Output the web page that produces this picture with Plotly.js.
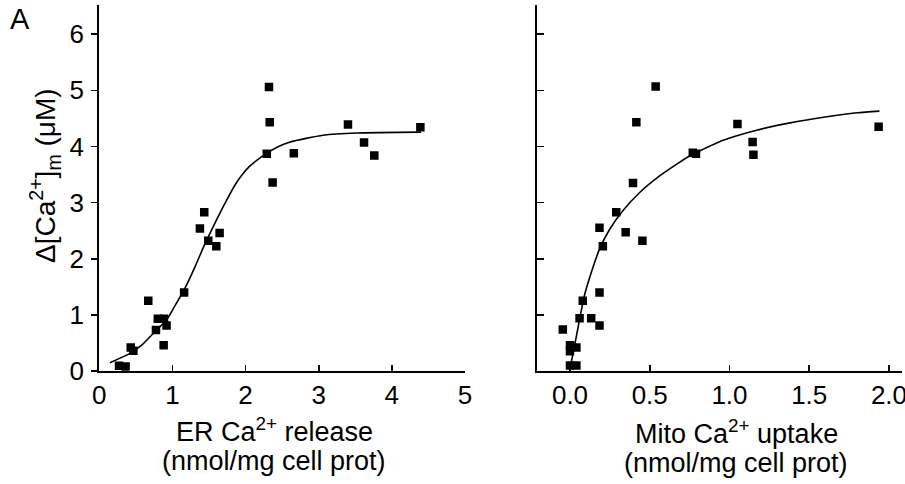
<!DOCTYPE html>
<html>
<head>
<meta charset="utf-8">
<script src="https://cdn.plot.ly/plotly-3.0.1.min.js"></script>
<style>html,body{margin:0;padding:0;background:#fff;}#chart{width:905px;height:484px;}</style>
</head>
<body>
<div id="chart"></div>
<script>
// Left panel: ER Ca2+ release vs Δ[Ca2+]m
var erX = [0.27, 0.36, 0.43, 0.466, 0.67, 0.775, 0.80, 0.884, 0.92, 0.88, 1.16, 1.376, 1.435, 1.49, 1.60, 1.645, 2.32, 2.33, 2.29, 2.37, 2.66, 3.40, 3.62, 3.76, 4.39];
var erY = [0.095, 0.08, 0.42, 0.36, 1.25, 0.73, 0.93, 0.93, 0.81, 0.46, 1.40, 2.54, 2.83, 2.32, 2.22, 2.46, 5.06, 4.43, 3.87, 3.36, 3.88, 4.39, 4.07, 3.84, 4.34];
// Left fitted curve
var erFitX = [0.146, 0.40, 0.58, 0.76, 0.92, 1.03, 1.17, 1.31, 1.44, 1.58, 1.72, 1.85, 1.95, 2.05, 2.18, 2.29, 2.45, 2.61, 3.06, 3.52, 4.40];
var erFitY = [0.148, 0.30, 0.46, 0.70, 0.91, 1.15, 1.47, 1.86, 2.25, 2.63, 2.99, 3.30, 3.49, 3.64, 3.78, 3.88, 4.00, 4.08, 4.20, 4.24, 4.255];

// Right panel: Mito Ca2+ uptake vs Δ[Ca2+]m
var mitoX = [-0.045, 0.0, 0.0, 0.04, 0.0, 0.04, 0.06, 0.08, 0.133, 0.185, 0.185, 0.206, 0.185, 0.29, 0.349, 0.454, 0.395, 0.416, 0.537, 0.77, 0.79, 1.05, 1.145, 1.15, 1.935];
var mitoY = [0.74, 0.46, 0.35, 0.42, 0.10, 0.10, 0.94, 1.25, 0.94, 0.81, 1.40, 2.22, 2.55, 2.83, 2.47, 2.32, 3.35, 4.43, 5.07, 3.89, 3.87, 4.40, 4.08, 3.85, 4.35];
// Right fitted curve
var mitoFitX = [0.0, 0.028, 0.06, 0.09, 0.133, 0.185, 0.248, 0.33, 0.437, 0.56, 0.667, 0.75, 0.813, 0.96, 1.17, 1.38, 1.59, 1.80, 1.94];
var mitoFitY = [0.04, 0.44, 0.92, 1.34, 1.75, 2.17, 2.52, 2.85, 3.18, 3.47, 3.68, 3.83, 3.92, 4.11, 4.29, 4.42, 4.52, 4.60, 4.63];

var yTicks = [0, 1, 2, 3, 4, 5, 6];
var erTicks = [0, 1, 2, 3, 4, 5];
var mitoTicks = [0, 0.5, 1.0, 1.5, 2.0];
var mitoTickText = ['0.0', '0.5', '1.0', '1.5', '2.0'];

var FONT = '"Liberation Sans", Arial, sans-serif';
var mk = {symbol: 'square', size: 8.5, color: '#000'};
var ln = {color: '#000', width: 1.6, shape: 'spline', smoothing: 0.6};

var traces = [
  {x: erFitX, y: erFitY, mode: 'lines', line: ln, xaxis: 'x', yaxis: 'y', hoverinfo: 'skip'},
  {x: erX, y: erY, mode: 'markers', marker: mk, xaxis: 'x', yaxis: 'y'},
  {x: mitoFitX, y: mitoFitY, mode: 'lines', line: ln, xaxis: 'x2', yaxis: 'y2', hoverinfo: 'skip'},
  {x: mitoX, y: mitoY, mode: 'markers', marker: mk, xaxis: 'x2', yaxis: 'y2'}
];

var axBase = {showgrid: false, zeroline: false, showline: true, linecolor: '#000', linewidth: 2,
  tickcolor: '#000', tickwidth: 1.6, tickfont: {family: FONT, size: 26, color: '#000'},
  ticklabeloverflow: 'allow', fixedrange: true};

function ax(extra) { return Object.assign({}, axBase, extra); }

var titleFont = {family: FONT, size: 27, color: '#000'};
function note(text, px, py, extra) {
  return Object.assign({text: text, xref: 'paper', yref: 'paper', x: px / 905, y: 1 - py / 484,
    xanchor: 'center', yanchor: 'middle', showarrow: false, font: titleFont}, extra || {});
}

var layout = {
  width: 905, height: 484,
  margin: {l: 0, r: 0, t: 0, b: 0},
  paper_bgcolor: '#fff', plot_bgcolor: '#fff',
  showlegend: false,
  font: {family: FONT, color: '#000', size: 26},
  xaxis: ax({domain: [0.1097, 0.5138], range: [0, 5], tickvals: erTicks, ticks: 'inside', ticklen: 6, anchor: 'y'}),
  yaxis: ax({domain: [0.2335, 0.9897], range: [0, 6.52], tickvals: yTicks, ticks: 'outside', ticklen: 6, ticklabelstandoff: 2, anchor: 'x'}),
  xaxis2: ax({domain: [0.5937, 0.9964], range: [-0.205, 2.08], tickvals: mitoTicks, ticktext: mitoTickText, ticks: 'inside', ticklen: 6, anchor: 'y2'}),
  yaxis2: ax({domain: [0.2335, 0.9897], range: [0, 6.52], tickvals: yTicks, ticks: 'inside', ticklen: 7, showticklabels: false, anchor: 'x2'}),
  annotations: [
    note('A', 20, 19, {font: {family: FONT, size: 29, color: '#000'}}),
    note('Δ[Ca<sup>2+</sup>]<sub>m</sub> (μM)', 45, 176, {textangle: -90, font: {family: FONT, size: 28, color: '#000'}}),
    note('ER Ca<sup>2+</sup> release', 274, 430),
    note('(nmol/mg cell prot)', 274, 461),
    note('Mito Ca<sup>2+</sup> uptake', 736, 432),
    note('(nmol/mg cell prot)', 736, 463)
  ]
};

Plotly.newPlot('chart', traces, layout, {displayModeBar: false, staticPlot: true});
</script>
</body>
</html>
